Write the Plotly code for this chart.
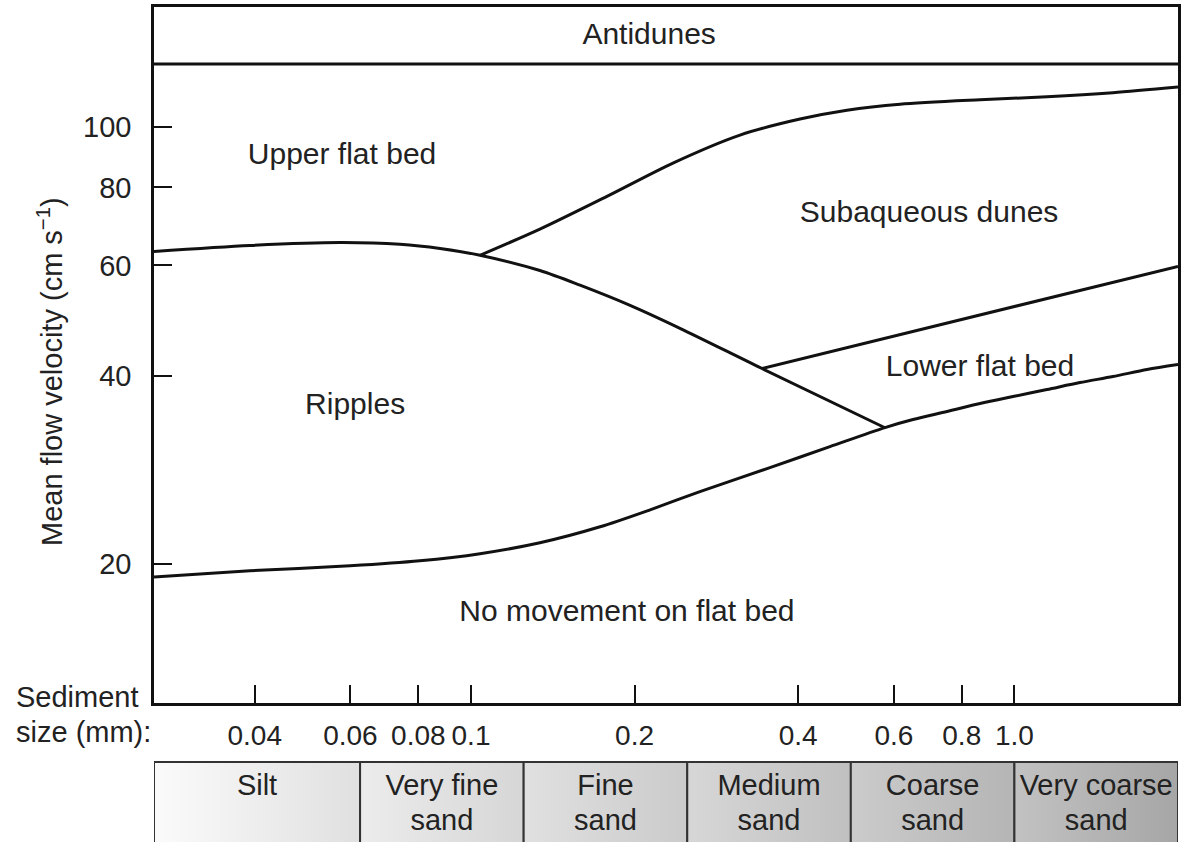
import math
import plotly.graph_objects as go

# ---------------- data ----------------
# grain size (mm) vs mean flow velocity (cm/s)
antidune_x = [0.0261, 2.0]
antidune_y = [126.0, 126.0]

# upper boundary of the ripple field (upper flat bed above, then dunes above)
ripple_top_x = [0.0261, 0.0392, 0.0574, 0.0740, 0.0877, 0.1039, 0.1339, 0.1587,
                0.1962, 0.2424, 0.3431, 0.5778]
ripple_top_y = [63.2, 64.6, 65.3, 64.9, 63.9, 62.3, 58.9, 55.8,
                51.8, 47.6, 41.05, 33.0]

# upper flat bed / subaqueous dunes boundary
dunes_upper_x = [0.1039, 0.1339, 0.1779, 0.2353, 0.3126, 0.4031, 0.4918, 0.6160,
                 0.8643, 1.148, 1.518, 2.0]
dunes_upper_y = [62.3, 68.6, 77.4, 87.5, 97.0, 102.9, 106.3, 108.7,
                 110.5, 111.7, 113.4, 115.8]

# subaqueous dunes / lower flat bed boundary
dune_lower_x = [0.3431, 2.0]
dune_lower_y = [41.05, 59.8]

# threshold of movement
movement_x = [0.0261, 0.0392, 0.0599, 0.0805, 0.1039, 0.1339, 0.1728, 0.2136, 0.2638,
              0.3549, 0.4576, 0.5778, 0.6507, 0.7515, 0.8643, 0.9940, 1.148, 1.320,
              1.518, 1.754, 2.0]
movement_y = [19.05, 19.48, 19.84, 20.21, 20.75, 21.60, 22.91, 24.39, 26.08,
              28.49, 30.78, 33.02, 34.01, 35.03, 36.08, 37.02, 37.99, 38.98,
              39.85, 40.89, 41.65]

region_names = ["Antidunes", "Upper flat bed", "Subaqueous dunes", "Ripples",
                "Lower flat bed", "No movement on flat bed"]
region_x = [0.2127, 0.0579, 0.6966, 0.0612, 0.8643, 0.1936]
region_y = [139.7, 89.7, 72.4, 35.7, 41.05, 16.62]

x_ticks = [0.04, 0.06, 0.08, 0.1, 0.2, 0.4, 0.6, 0.8, 1.0]
x_tick_labels = ["0.04", "0.06", "0.08", "0.1", "0.2", "0.4", "0.6", "0.8", "1.0"]
y_ticks = [20, 40, 60, 80, 100]
y_tick_labels = ["20", "40", "60", "80", "100"]

class_line1 = ["Silt", "Very fine", "Fine", "Medium", "Coarse", "Very coarse"]
class_line2 = ["", "sand", "sand", "sand", "sand", "sand"]
class_edges = [0.0261, 0.0625, 0.125, 0.25, 0.5, 1.0, 2.0]

x_min, x_max = 0.0261, 2.0
y_min, y_max = 11.97, 155.5

# ---------------- style ----------------
FONT = "Liberation Sans, Arial, Helvetica, sans-serif"
TXT = "#222222"
LINE = "#111111"
cell_grad = [("#fbfbfb", "#e0e0e0"), ("#ececec", "#d6d6d6"), ("#e0e0e0", "#cbcbcb"),
             ("#d7d7d7", "#c0c0c0"), ("#cbcbcb", "#b5b5b5"), ("#c2c2c2", "#a6a6a6")]

fig = go.Figure()


def boundary(xs, ys, shape="spline"):
    fig.add_trace(go.Scatter(x=xs, y=ys, mode="lines",
                             line=dict(color=LINE, width=3, shape=shape, smoothing=0.8),
                             hoverinfo="skip", xaxis="x", yaxis="y"))


boundary(antidune_x, antidune_y, "linear")
boundary(ripple_top_x, ripple_top_y)
boundary(dunes_upper_x, dunes_upper_y)
boundary(dune_lower_x, dune_lower_y, "linear")
boundary(movement_x, movement_y)

fig.add_trace(go.Scatter(x=region_x, y=region_y, mode="text", text=region_names,
                         textposition="middle center",
                         textfont=dict(family=FONT, size=30, color=TXT),
                         hoverinfo="skip", xaxis="x", yaxis="y"))

# grain size class table
cell_top = 0.952
for i in range(len(class_line1)):
    a, b = class_edges[i], class_edges[i + 1]
    c0, c1 = cell_grad[i]
    fig.add_trace(go.Scatter(x=[a, b, b, a, a], y=[-0.3, -0.3, cell_top, cell_top, -0.3],
                             mode="lines", fill="toself",
                             fillgradient=dict(type="horizontal",
                                               colorscale=[[0, c0], [1, c1]]),
                             line=dict(color="#333333", width=2),
                             hoverinfo="skip", xaxis="x2", yaxis="y2"))
mids = [math.sqrt(class_edges[i] * class_edges[i + 1]) for i in range(len(class_line1))]
fig.add_trace(go.Scatter(x=mids, y=[0.643] * len(mids), mode="text", text=class_line1,
                         textfont=dict(family=FONT, size=29, color=TXT),
                         hoverinfo="skip", xaxis="x2", yaxis="y2"))
m2 = [m for m, t in zip(mids, class_line2) if t]
t2 = [t for t in class_line2 if t]
fig.add_trace(go.Scatter(x=m2, y=[0.226] * len(m2), mode="text", text=t2,
                         textfont=dict(family=FONT, size=29, color=TXT),
                         hoverinfo="skip", xaxis="x2", yaxis="y2"))

W, H = 1183, 842
ML, MR, MT, MB = 154, 5, 7, 0
ph = H - MT - MB
main_bottom = (H - 703) / ph
table_top = (H - 758) / ph

fig.update_layout(
    width=W, height=H, margin=dict(l=ML, r=MR, t=MT, b=MB),
    paper_bgcolor="white", plot_bgcolor="rgba(0,0,0,0)",
    showlegend=False, hovermode=False,
    font=dict(family=FONT, color=TXT, size=28),
    xaxis=dict(type="log", range=[math.log10(x_min), math.log10(x_max)],
               domain=[0, 1], anchor="y", automargin=False,
               tickvals=x_ticks, ticktext=x_tick_labels,
               ticks="inside", ticklen=18, tickwidth=2, tickcolor=LINE,
               ticklabelstandoff=6,
               showline=True, linecolor=LINE, linewidth=2.5, mirror=True,
               showgrid=False, zeroline=False,
               tickfont=dict(family=FONT, size=28, color=TXT)),
    yaxis=dict(type="log", range=[math.log10(y_min), math.log10(y_max)],
               domain=[main_bottom, 1], anchor="x", automargin=False,
               tickvals=y_ticks, ticktext=y_tick_labels,
               ticks="inside", ticklen=18, tickwidth=2, tickcolor=LINE,
               ticklabelstandoff=14,
               showline=True, linecolor=LINE, linewidth=2.5, mirror=True,
               showgrid=False, zeroline=False,
               tickfont=dict(family=FONT, size=29, color=TXT)),
    xaxis2=dict(type="log", matches="x", anchor="y2", domain=[0, 1],
                showticklabels=False, ticks="", showline=False, showgrid=False,
                zeroline=False),
    yaxis2=dict(range=[0, 1], domain=[0, table_top], anchor="x2",
                showticklabels=False, ticks="", showline=False, showgrid=False,
                zeroline=False),
)

fig.add_annotation(text="Mean flow velocity (cm s<sup>\u22121</sup>)", textangle=-90,
                   xref="paper", yref="paper", x=(50 - ML) / (W - ML - MR),
                   y=(H - 372) / ph, xanchor="center", yanchor="middle",
                   showarrow=False, font=dict(family=FONT, size=29, color=TXT))
fig.add_annotation(text="Sediment", xref="paper", yref="paper",
                   x=(14 - ML) / (W - ML - MR), y=(H - 697) / ph,
                   xanchor="left", yanchor="middle", showarrow=False,
                   font=dict(family=FONT, size=29, color=TXT))
fig.add_annotation(text="size (mm):", xref="paper", yref="paper",
                   x=(14 - ML) / (W - ML - MR), y=(H - 732) / ph,
                   xanchor="left", yanchor="middle", showarrow=False,
                   font=dict(family=FONT, size=29, color=TXT))

fig.write_html("out.html", config={"displayModeBar": False},
               post_script="document.body.style.margin='0';"
                           "document.body.style.overflow='hidden';")
